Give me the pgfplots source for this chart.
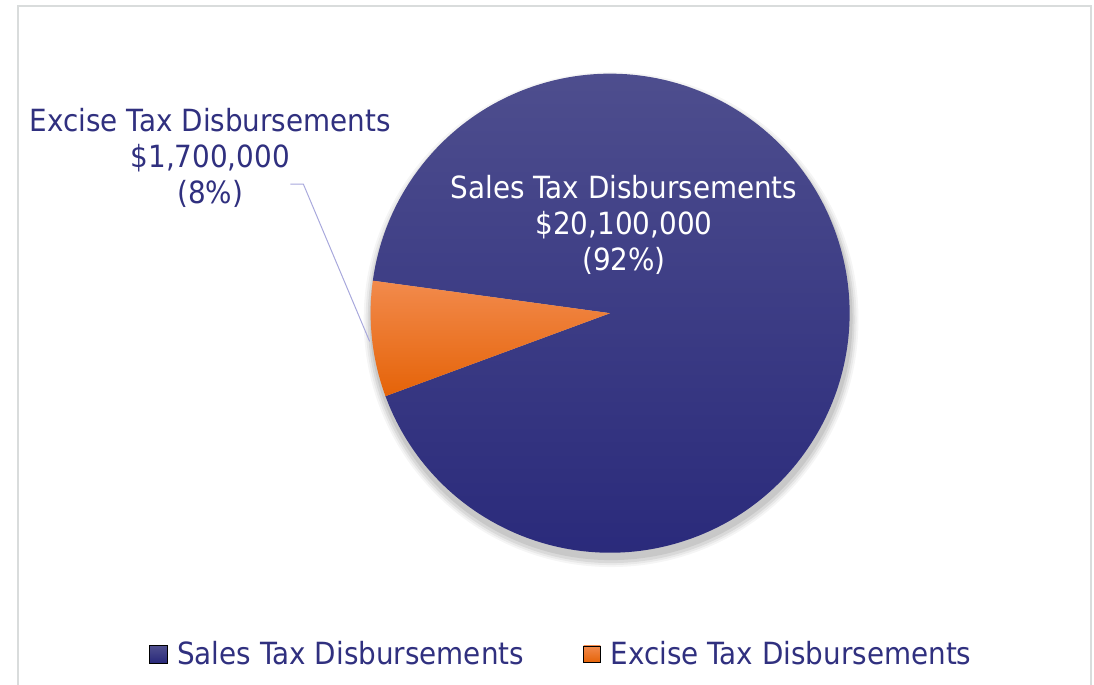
\documentclass[border=0pt]{standalone}
\usepackage{pgfplots}
\pgfplotsset{compat=1.18}
\usepackage{pgfplotstable}
\usepackage{fontspec}
\setmainfont{DejaVu Sans}[FakeStretch=0.91]
\definecolor{salesTop}{HTML}{50508F}
\definecolor{salesBot}{HTML}{28287A}
\definecolor{excTop}{HTML}{F28A4C}
\definecolor{excBot}{HTML}{E56308}
\definecolor{labelText}{HTML}{30307F}
\definecolor{leader}{HTML}{A8A8DC}
\definecolor{frame}{HTML}{D9DCDC}

% values in millions of dollars
\pgfplotstableread{
label value
Sales 20.1
Excise 1.7
}\piedata

\begin{document}
\pgfplotstablegetelem{0}{value}\of\piedata \let\vsales\pgfplotsretval
\pgfplotstablegetelem{1}{value}\of\piedata \let\vexcise\pgfplotsretval
\pgfmathsetmacro{\total}{\vsales+\vexcise}
\pgfmathsetmacro{\excStart}{172.2}
\pgfmathsetmacro{\excEnd}{\excStart+360*\vexcise/\total}
\pgfmathsetmacro{\salesEnd}{\excStart+360}
\begin{tikzpicture}
\begin{axis}[
  name=ax,
  at={(0,0)}, anchor=south west,
  width=1094bp, height=692bp, scale only axis,
  xmin=0, xmax=1094, ymin=0, ymax=692,
  enlargelimits=false, hide axis, clip=false,
  legend style={at={(axis cs:139,31)}, anchor=west, draw=none, fill=none,
    inner sep=0pt, legend columns=2, text=labelText,
    font=\fontsize{31}{36}\selectfont,
    /tikz/every odd column/.append style={column sep=8bp},
    /tikz/every even column/.append style={column sep=58bp}},
]
% frame
\draw[frame, line width=2bp] (axis cs:7,-10) -- (axis cs:7,686) -- (axis cs:1091,686) -- (axis cs:1091,-10);
% soft shadow (offset down-right)
\fill[black, opacity=0.04] (axis cs:606,369) circle[radius=250bp];
\fill[black, opacity=0.05] (axis cs:606,369) circle[radius=248bp];
\fill[black, opacity=0.07] (axis cs:606,369) circle[radius=246bp];
\fill[black, opacity=0.08] (axis cs:606,370) circle[radius=244bp];
% slices
\shade[top color=salesTop, bottom color=salesBot]
  (axis cs:605,375.5) -- ++(\excEnd:242bp) arc[start angle=\excEnd, end angle=\salesEnd, radius=242bp] -- cycle;
\shade[top color=excTop, bottom color=excBot]
  (axis cs:605,375.5) -- ++(\excStart:242bp) arc[start angle=\excStart, end angle=\excEnd, radius=242bp] -- cycle;
% leader line
\draw[leader, line width=1bp] (axis cs:282,506) -- (axis cs:295,506) -- (axis cs:362,347);
% labels
\node[align=center, text=labelText, inner sep=0pt, font=\fontsize{31}{36.5}\selectfont]
  at (axis cs:201,532) {Excise Tax Disbursements\\\$1,700,000\\(8\%)};
\node[align=center, text=white, inner sep=0pt, font=\fontsize{31}{36.5}\selectfont]
  at (axis cs:619,465) {Sales Tax Disbursements\\\$20,100,000\\(92\%)};
% legend
\addlegendimage{legend image code/.code={\shade[top color=salesTop, bottom color=salesBot] (0bp,-9bp) rectangle (18bp,9bp);}}
\addlegendentry{Sales Tax Disbursements}
\addlegendimage{legend image code/.code={\shade[top color=excTop, bottom color=excBot] (0bp,-8.5bp) rectangle (17bp,8.5bp);}}
\addlegendentry{Excise Tax Disbursements}
\end{axis}
\pgfresetboundingbox
\useasboundingbox (ax.south west) rectangle (ax.north east);
\end{tikzpicture}
\end{document}
